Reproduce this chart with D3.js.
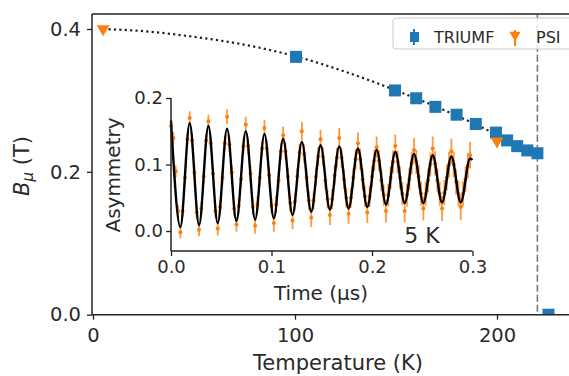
<!DOCTYPE html>
<html>
<head>
<meta charset="utf-8">
<script src="https://cdn.jsdelivr.net/npm/d3@7"></script>
<style>
  body { margin: 0; background: #fff; }
  svg { display: block; font-family: "DejaVu Sans", sans-serif; }
</style>
</head>
<body>
<svg id="canvas"></svg>
<script>
// main panel: field vs temperature
let triumfT = [100.5, 149.5, 160, 169.5, 180, 189.5, 199.5, 205, 210, 215, 220, 225.5]
let triumfB = [0.361, 0.314, 0.303, 0.291, 0.280, 0.267, 0.255, 0.244, 0.236, 0.230, 0.226, 0.0]
let psiT = [5, 200]
let psiB = [0.400, 0.243]
let fitT = [5, 25, 50, 75, 100, 125, 150, 175, 200, 210, 220]
let fitB = [0.400, 0.397, 0.389, 0.378, 0.362, 0.340, 0.314, 0.285, 0.252, 0.238, 0.224]
let tcLine = 220
let xTicks = [0, 100, 200]
let yTicks = [0.0, 0.2, 0.4]

// inset: asymmetry at 5 K, fit curve read at its peaks and troughs
let fitTime = [0, 0.0093, 0.0186, 0.0279, 0.0372, 0.0465, 0.0558, 0.0651, 0.0744, 0.0837, 0.0930,
  0.1023, 0.1116, 0.1209, 0.1302, 0.1395, 0.1488, 0.1581, 0.1674, 0.1767, 0.1860, 0.1953,
  0.2046, 0.2139, 0.2232, 0.2325, 0.2418, 0.2511, 0.2604, 0.2697, 0.2790, 0.2883, 0.2976, 0.3]
let fitAsym = [0.166, 0.006, 0.162, 0.009, 0.158, 0.012, 0.154, 0.015, 0.150, 0.017, 0.146,
  0.019, 0.139, 0.024, 0.134, 0.029, 0.129, 0.032, 0.127, 0.034, 0.124, 0.036,
  0.122, 0.040, 0.119, 0.042, 0.116, 0.042, 0.114, 0.043, 0.112, 0.043, 0.109, 0.107]

// measured points (four per half period)
let dataTime = [
  0.0000, 0.0023, 0.0047, 0.0070, 0.0093, 0.0116, 0.0140, 0.0163,
  0.0186, 0.0209, 0.0233, 0.0256, 0.0279, 0.0302, 0.0326, 0.0349,
  0.0372, 0.0395, 0.0419, 0.0442, 0.0465, 0.0488, 0.0512, 0.0535,
  0.0558, 0.0581, 0.0605, 0.0628, 0.0651, 0.0674, 0.0698, 0.0721,
  0.0744, 0.0767, 0.0791, 0.0814, 0.0837, 0.0860, 0.0884, 0.0907,
  0.0930, 0.0953, 0.0977, 0.1000, 0.1023, 0.1046, 0.1070, 0.1093,
  0.1116, 0.1139, 0.1163, 0.1186, 0.1209, 0.1232, 0.1256, 0.1279,
  0.1302, 0.1325, 0.1349, 0.1372, 0.1395, 0.1418, 0.1442, 0.1465,
  0.1488, 0.1511, 0.1535, 0.1558, 0.1581, 0.1604, 0.1628, 0.1651,
  0.1674, 0.1697, 0.1721, 0.1744, 0.1767, 0.1790, 0.1814, 0.1837,
  0.1860, 0.1883, 0.1907, 0.1930, 0.1953, 0.1976, 0.2000, 0.2023,
  0.2046, 0.2069, 0.2093, 0.2116, 0.2139, 0.2162, 0.2186, 0.2209,
  0.2232, 0.2255, 0.2279, 0.2302, 0.2325, 0.2348, 0.2372, 0.2395,
  0.2418, 0.2441, 0.2465, 0.2488, 0.2511, 0.2534, 0.2558, 0.2581,
  0.2604, 0.2627, 0.2651, 0.2674, 0.2697, 0.2720, 0.2744, 0.2767,
  0.2790, 0.2813, 0.2837, 0.2860, 0.2883, 0.2906, 0.2930, 0.2953,
  0.2976]
let dataAsym = [
  0.158, 0.140, 0.090, 0.030, -0.002, 0.030, 0.080, 0.138,
  0.170, 0.136, 0.088, 0.028, 0.002, 0.034, 0.082, 0.136,
  0.165, 0.132, 0.086, 0.030, 0.004, 0.036, 0.080, 0.132,
  0.172, 0.130, 0.088, 0.034, 0.010, 0.038, 0.078, 0.128,
  0.160, 0.128, 0.086, 0.036, 0.008, 0.040, 0.080, 0.124,
  0.155, 0.124, 0.084, 0.038, 0.012, 0.040, 0.076, 0.120,
  0.144, 0.120, 0.082, 0.042, 0.016, 0.044, 0.082, 0.118,
  0.150, 0.116, 0.080, 0.046, 0.020, 0.046, 0.082, 0.112,
  0.138, 0.112, 0.076, 0.048, 0.024, 0.048, 0.084, 0.110,
  0.140, 0.110, 0.078, 0.050, 0.026, 0.050, 0.080, 0.108,
  0.132, 0.108, 0.078, 0.052, 0.028, 0.052, 0.082, 0.106,
  0.126, 0.106, 0.076, 0.054, 0.030, 0.054, 0.080, 0.104,
  0.128, 0.104, 0.080, 0.056, 0.030, 0.054, 0.078, 0.102,
  0.122, 0.104, 0.082, 0.056, 0.034, 0.056, 0.076, 0.100,
  0.124, 0.102, 0.076, 0.056, 0.034, 0.058, 0.080, 0.100,
  0.120, 0.100, 0.074, 0.056, 0.036, 0.056, 0.078, 0.098,
  0.114]
// error bar size for each half period
let halfPeriodErr = [0.009, 0.009, 0.010, 0.010, 0.010, 0.011, 0.011, 0.011, 0.012, 0.012, 0.012,
  0.013, 0.013, 0.013, 0.014, 0.014, 0.014, 0.015, 0.015, 0.015, 0.016, 0.016,
  0.016, 0.017, 0.017, 0.017, 0.018, 0.018, 0.018, 0.019, 0.019, 0.019, 0.020]
let insetXTicks = [0.0, 0.1, 0.2, 0.3]
let insetYTicks = [0.0, 0.1, 0.2]

let width = 569
let height = 376
let blue = '#1f77b4'
let orange = '#ff7f0e'
let ink = '#222'

let svg = d3.select('#canvas')
            .attr('width', width)
            .attr('height', height)

let x = d3.scaleLinear().domain([0, 238]).range([93, 93 + 238 * 2.02])
let y = d3.scaleLinear().domain([0, 0.42]).range([314.7, 314.7 - 0.42 * 714.25])

svg.append('clipPath').attr('id', 'mainClip')
   .append('rect')
   .attr('x', 92).attr('y', 14).attr('width', 500).attr('height', 300.7)

let plot = svg.append('g').attr('clip-path', 'url(#mainClip)')

// dotted fit through the field data
let fitLine = d3.line()
                .x((d, i) => x(fitT[i]))
                .y((d, i) => y(fitB[i]))
                .curve(d3.curveMonotoneX)
plot.append('path')
    .attr('d', fitLine(fitT))
    .attr('fill', 'none')
    .attr('stroke', ink)
    .attr('stroke-width', 2.2)
    .attr('stroke-dasharray', '2.2,3.2')

// transition temperature
plot.append('line')
    .attr('x1', x(tcLine)).attr('x2', x(tcLine))
    .attr('y1', y(0.42)).attr('y2', y(0))
    .attr('stroke', '#777')
    .attr('stroke-width', 1.6)
    .attr('stroke-dasharray', '7,3')

// TRIUMF squares
plot.selectAll('.triumf')
    .data(triumfT)
    .enter()
    .append('rect')
    .attr('class', 'triumf')
    .attr('x', (d) => x(d) - 6)
    .attr('y', (d, i) => y(triumfB[i]) - 6)
    .attr('width', 12)
    .attr('height', 12)
    .attr('fill', blue)

// PSI triangles
let triDown = d3.symbol().type(d3.symbolTriangle).size(70)
plot.selectAll('.psi')
    .data(psiT)
    .enter()
    .append('path')
    .attr('class', 'psi')
    .attr('d', triDown)
    .attr('transform', (d, i) => 'translate(' + x(d) + ',' + y(psiB[i]) + ') rotate(180)')
    .attr('fill', orange)

// main spines
svg.append('line').attr('x1', 92).attr('x2', width).attr('y1', 14).attr('y2', 14)
   .attr('stroke', ink).attr('stroke-width', 1.5)

let xAxis = svg.append('g')
               .attr('transform', 'translate(0,314.7)')
               .call(d3.axisBottom(x).tickValues(xTicks).tickSize(5).tickPadding(8).tickFormat(d3.format('d')))
let yAxis = svg.append('g')
               .attr('transform', 'translate(92,0)')
               .call(d3.axisLeft(y).tickValues(yTicks).tickSize(5).tickPadding(6).tickFormat(d3.format('.1f')))

// inset
let ix = d3.scaleLinear().domain([0, 0.3]).range([171, 472.5])
let iy = d3.scaleLinear().domain([-0.03, 0.2]).range([251, 98])

let errOf = (i) => halfPeriodErr[Math.floor(i / 4)]

let errs = svg.append('g')
errs.selectAll('line')
    .data(dataTime)
    .enter()
    .append('line')
    .attr('x1', (d) => ix(d)).attr('x2', (d) => ix(d))
    .attr('y1', (d, i) => iy(dataAsym[i] - errOf(i)))
    .attr('y2', (d, i) => iy(dataAsym[i] + errOf(i)))
    .attr('stroke', orange)
    .attr('stroke-width', 1.8)
    .attr('opacity', 0.8)
errs.selectAll('circle')
    .data(dataTime)
    .enter()
    .append('circle')
    .attr('cx', (d) => ix(d))
    .attr('cy', (d, i) => iy(dataAsym[i]))
    .attr('r', 2)
    .attr('fill', orange)

let asymLine = d3.line()
                 .x((d, i) => ix(fitTime[i]))
                 .y((d, i) => iy(fitAsym[i]))
                 .curve(d3.curveMonotoneX)
svg.append('path')
   .attr('d', asymLine(fitTime))
   .attr('fill', 'none')
   .attr('stroke', '#000')
   .attr('stroke-width', 2.4)

let ixAxis = svg.append('g')
                .attr('transform', 'translate(0,251)')
                .call(d3.axisBottom(ix).tickValues(insetXTicks).tickSize(5).tickPadding(4).tickFormat(d3.format('.1f')))
let iyAxis = svg.append('g')
                .attr('transform', 'translate(171,0)')
                .call(d3.axisLeft(iy).tickValues(insetYTicks).tickSize(5).tickPadding(3).tickFormat(d3.format('.1f')))

// axis styling
for (let ax of [xAxis, yAxis, ixAxis, iyAxis]) {
    ax.attr('font-family', 'DejaVu Sans').attr('font-size', 18)
    ax.selectAll('path.domain').attr('stroke', ink).attr('stroke-width', 1.5)
    ax.selectAll('.tick line').attr('stroke', ink).attr('stroke-width', 1.3)
    ax.selectAll('.tick text').attr('fill', '#2a2a2a')
}
xAxis.attr('font-size', 19.5)
yAxis.attr('font-size', 19.5)
iyAxis.select('path.domain').attr('d', 'M0,' + iy(0.2) + 'V251')
ixAxis.select('path.domain').attr('d', 'M171,0H' + ix(0.3))
xAxis.select('path.domain').attr('d', 'M92,0H' + width)
yAxis.select('path.domain').attr('d', 'M0,14V314.7')

// labels
svg.append('text')
   .attr('x', 338).attr('y', 370)
   .attr('text-anchor', 'middle')
   .attr('font-size', 21).attr('fill', '#2a2a2a')
   .text('Temperature (K)')

let yl = svg.append('text')
            .attr('transform', 'translate(29,166) rotate(-90)')
            .attr('text-anchor', 'middle')
            .attr('font-size', 21).attr('fill', '#2a2a2a')
yl.append('tspan').attr('font-style', 'italic').text('B')
yl.append('tspan').attr('font-style', 'italic').attr('font-size', 15).attr('dy', 4).text('μ')
yl.append('tspan').attr('dy', -4).text(' (T)')

svg.append('text')
   .attr('x', 321).attr('y', 300)
   .attr('text-anchor', 'middle')
   .attr('font-size', 20).attr('fill', '#2a2a2a')
   .text('Time (μs)')

svg.append('text')
   .attr('transform', 'translate(120,175) rotate(-90)')
   .attr('text-anchor', 'middle')
   .attr('font-size', 20).attr('fill', '#2a2a2a')
   .text('Asymmetry')

svg.append('text')
   .attr('x', 422).attr('y', 243)
   .attr('text-anchor', 'middle')
   .attr('font-size', 22).attr('fill', '#2a2a2a')
   .text('5 K')

// legend
let legend = svg.append('g').attr('id', 'legend')
legend.append('rect')
      .attr('x', 393).attr('y', 18).attr('width', 190).attr('height', 31)
      .attr('rx', 3)
      .attr('fill', '#fff').attr('fill-opacity', 0.8)
      .attr('stroke', '#ccc').attr('stroke-width', 1)
legend.append('line').attr('x1', 414).attr('x2', 414).attr('y1', 29).attr('y2', 45)
      .attr('stroke', blue).attr('stroke-width', 2)
legend.append('rect').attr('x', 410).attr('y', 32).attr('width', 9).attr('height', 10).attr('fill', blue)
legend.append('text').attr('x', 434).attr('y', 43).attr('font-size', 16).attr('fill', '#2a2a2a').text('TRIUMF')
legend.append('line').attr('x1', 515).attr('x2', 515).attr('y1', 30).attr('y2', 46)
      .attr('stroke', orange).attr('stroke-width', 2)
legend.append('path')
      .attr('d', d3.symbol().type(d3.symbolTriangle).size(55))
      .attr('transform', 'translate(515,35) rotate(180)')
      .attr('fill', orange)
legend.append('text').attr('x', 536).attr('y', 43).attr('font-size', 16).attr('fill', '#2a2a2a').text('PSI')
</script>
</body>
</html>
